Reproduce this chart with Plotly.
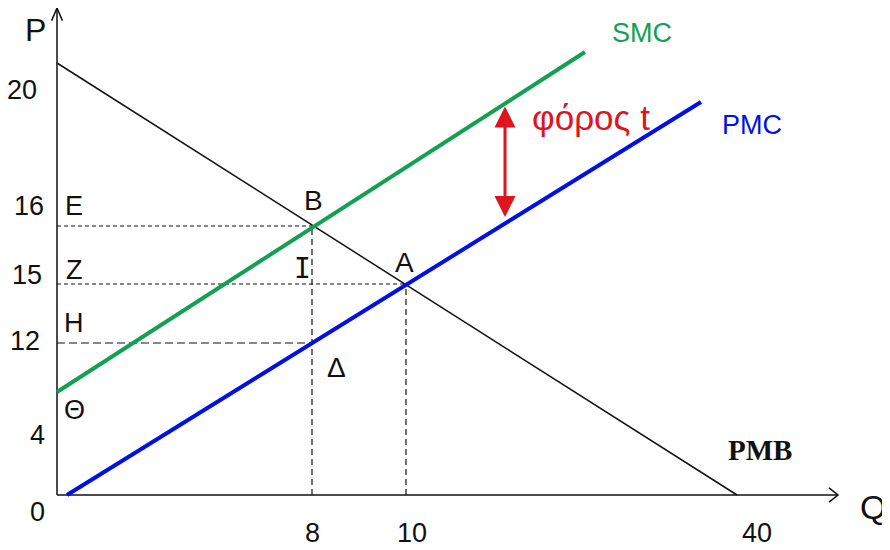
"""
Externality diagram: private vs social marginal cost with a corrective tax.
Schematic drawing — coordinates are diagram units, labels are the economic values.
"""

import plotly.graph_objects as go

# Colour palette
_GREEN = "#12A150"
_BLUE = "#0010E6"
_RED = "#E0141C"
_BLACK = "#111111"

_FONT = "Liberation Sans, Arial, sans-serif"

# Curves (diagram units, origin at axis corner)
pmb_x = [0, 680]
pmb_y = [432, 0]
smc_x = [0, 528]
smc_y = [103, 443]
pmc_x = [10, 644]
pmc_y = [0, 393]

# Key points: B (social optimum), A (market equilibrium), Δ (PMC at Q of B)
point_x = {"B": 255, "A": 349, "Δ": 255}
point_y = {"B": 269, "A": 211, "Δ": 152}

# Axes extent
axis_x_end = 781
axis_y_end = 487

# Tax arrow between the two cost curves
tax_x = 448
tax_y = [278, 390]

# Tick labels drawn as text (schematic, not to scale)
p_labels = ["20", "16", "15", "12", "4", "0"]
p_label_y = [405, 289, 220, 154, 60, -17]
p_label_x = [-35, -28, -30, -32, -20, -20]
q_labels = ["8", "10", "40"]
q_label_x = [255, 355, 700]

# Area letters on the P axis
side_letters = ["Ε", "Ζ", "Η", "Θ"]
side_letter_y = [289, 225, 172, 85]

fig = go.Figure()

# Dashed guide lines
guides = [
    ([0, point_x["B"]], [point_y["B"], point_y["B"]], "4px,3px"),
    ([0, point_x["A"]], [point_y["A"], point_y["A"]], "4px,3px"),
    ([0, point_x["Δ"]], [point_y["Δ"], point_y["Δ"]], "8px,4px"),
    ([point_x["B"], point_x["B"]], [0, point_y["B"]], "6px,4px"),
    ([point_x["A"], point_x["A"]], [0, point_y["A"]], "6px,4px"),
]
for gx, gy, dash in guides:
    fig.add_trace(go.Scatter(x=gx, y=gy, mode="lines",
                             line=dict(color=_BLACK, width=1.2, dash=dash),
                             hoverinfo="skip"))

# Axes with open arrow heads
fig.add_trace(go.Scatter(x=[0, axis_x_end], y=[0, 0], mode="lines",
                         line=dict(color=_BLACK, width=1.5), hoverinfo="skip"))
fig.add_trace(go.Scatter(x=[0, 0], y=[0, axis_y_end], mode="lines",
                         line=dict(color=_BLACK, width=1.5), hoverinfo="skip"))
head = 9
fig.add_trace(go.Scatter(
    x=[axis_x_end - head, axis_x_end, axis_x_end - head],
    y=[head * 0.8, 0, -head * 0.8], mode="lines",
    line=dict(color=_BLACK, width=1.5), hoverinfo="skip"))
fig.add_trace(go.Scatter(
    x=[-head * 0.6, 0, head * 0.6],
    y=[axis_y_end - head * 1.4, axis_y_end, axis_y_end - head * 1.4], mode="lines",
    line=dict(color=_BLACK, width=1.5), hoverinfo="skip"))

# Curves
fig.add_trace(go.Scatter(x=pmb_x, y=pmb_y, mode="lines", name="PMB",
                         line=dict(color=_BLACK, width=1.5)))
fig.add_trace(go.Scatter(x=smc_x, y=smc_y, mode="lines", name="SMC",
                         line=dict(color=_GREEN, width=4)))
fig.add_trace(go.Scatter(x=pmc_x, y=pmc_y, mode="lines", name="PMC",
                         line=dict(color=_BLUE, width=4)))

# Tax double arrow
fig.add_annotation(x=tax_x, y=tax_y[0], ax=tax_x, ay=tax_y[1],
                   xref="x", yref="y", axref="x", ayref="y",
                   text="", showarrow=True, arrowhead=2, startarrowhead=2,
                   arrowside="end+start", arrowsize=1.4, startarrowsize=1.4,
                   arrowwidth=3, arrowcolor=_RED)


def label(x, y, text, size=27, color=_BLACK, family=_FONT):
    fig.add_annotation(x=x, y=y, xref="x", yref="y", text=text,
                       showarrow=False, font=dict(size=size, color=color, family=family))


for txt, lx, ly in zip(p_labels, p_label_x, p_label_y):
    label(lx, ly, txt)
for txt, lx in zip(q_labels, q_label_x):
    label(lx, -38, txt)
for txt, ly in zip(side_letters, side_letter_y):
    label(17, ly, txt)

label(-22, 465, "P", size=32)
label(816, -12, "Q", size=34)
label(256, 295, "Β", size=28)
label(245, 227, "Ι", size=28, family="DejaVu Sans Mono, monospace")
label(347, 233, "Α", size=28)
label(279, 128, "Δ", size=28)

label(585, 462, "SMC", size=27, color=_GREEN)
label(695, 370, "PMC", size=27, color=_BLUE)
label(534, 378, "φόρος t", size=35, color=_RED)
label(703, 45, "<b>PMB</b>", size=29, family="Liberation Serif, Times New Roman, serif")

# The page body adds an 8px margin, so the view is shifted to compensate
fig.update_layout(
    width=890,
    height=550,
    margin=dict(l=0, r=0, t=0, b=0),
    plot_bgcolor="white",
    paper_bgcolor="white",
    showlegend=False,
    xaxis=dict(range=[-49, 841], visible=False, fixedrange=True),
    yaxis=dict(range=[-63, 487], visible=False, fixedrange=True),
)

fig.write_html("out.html")
